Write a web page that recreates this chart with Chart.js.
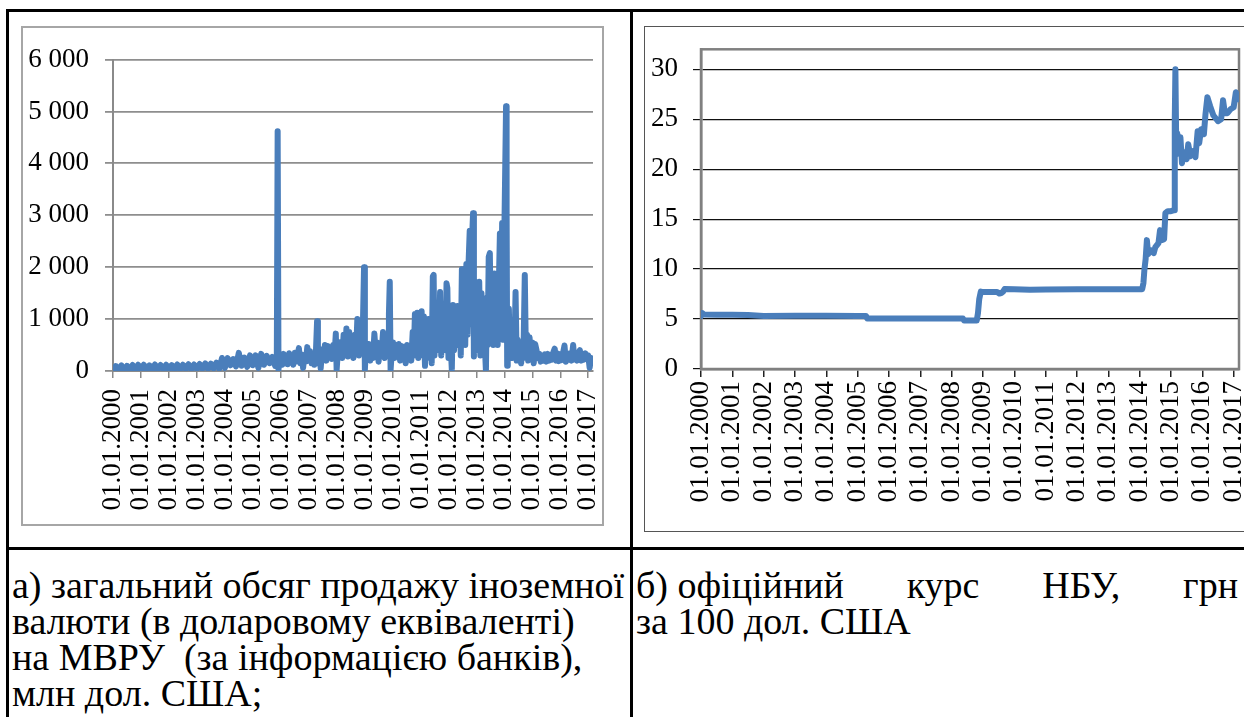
<!DOCTYPE html>
<html><head><meta charset="utf-8">
<script src="https://cdn.jsdelivr.net/npm/chart.js@4"></script>
<style>
html,body{margin:0;padding:0;background:#fff;}
body{width:1244px;height:717px;overflow:hidden;position:relative;font-family:'Liberation Serif','Times New Roman',serif;}
.rule{position:absolute;background:#000;}
.frame{position:absolute;box-sizing:border-box;}
canvas{position:absolute;}
.cap{position:absolute;font-family:'Liberation Serif','Times New Roman',serif;font-size:38px;line-height:36px;color:#000;white-space:nowrap;}
</style></head><body>
<div class="rule" style="left:6px;top:9px;width:1238px;height:3px"></div>
<div class="rule" style="left:6px;top:9px;width:3px;height:708px"></div>
<div class="rule" style="left:630px;top:9px;width:3px;height:708px"></div>
<div class="rule" style="left:6px;top:547px;width:1238px;height:3px"></div>
<div class="frame" style="left:21px;top:26px;width:583px;height:500px;border:2px solid #a6a6a6"></div>
<div class="frame" style="left:644px;top:26px;width:640px;height:506px;border:1.5px solid #555"></div>
<canvas id="c1" width="581" height="498" style="left:22px;top:27px"></canvas>
<canvas id="c2" width="599" height="504" style="left:645px;top:27px"></canvas>
<div class="cap" style="left:12px;top:567px;">а) загальний обсяг продажу іноземної<br>валюти (в доларовому еквіваленті)<br>на МВРУ&nbsp; (за інформацією банків),<br>млн дол. США;</div>
<div class="cap" style="left:636px;top:567px;width:602px;white-space:normal;">
<div style="text-align:justify;text-align-last:justify;"><span style="display:inline-block">б) офіційний</span> курс НБУ, грн</div>
<div>за 100 дол. США</div></div>
<script>
// ---- x axis ticks (both charts)
const tickYears = [2000,2001,2002,2003,2004,2005,2006,2007,2008,2009,2010,2011,2012,2013,2014,2015,2016,2017];
const tickLabels = ['01.01.2000','01.01.2001','01.01.2002','01.01.2003','01.01.2004','01.01.2005','01.01.2006','01.01.2007','01.01.2008','01.01.2009','01.01.2010','01.01.2011','01.01.2012','01.01.2013','01.01.2014','01.01.2015','01.01.2016','01.01.2017'];

// ---- chart a: total sales of foreign currency, mln USD
const salesTickValues = [0,1000,2000,3000,4000,5000,6000];
const salesTickLabels = ['0','1 000','2 000','3 000','4 000','5 000','6 000'];
const salesYears = [
 2000.0,2000.1,2000.2,2000.3,2000.4,2000.5,2000.6,2000.7,2000.8,2000.9,
 2001.0,2001.1,2001.2,2001.3,2001.4,2001.5,2001.6,2001.7,2001.8,2001.9,
 2002.0,2002.1,2002.2,2002.3,2002.4,2002.5,2002.6,2002.7,2002.8,2002.9,
 2003.0,2003.1,2003.2,2003.3,2003.4,2003.5,2003.6,2003.7,2003.8,2003.9,
 2004.0,2004.1,2004.2,2004.3,2004.4,2004.5,2004.6,2004.7,2004.8,2004.9,
 2005.0,2005.1,2005.2,2005.3,2005.4,2005.5,2005.6,2005.7,2005.8,
 2005.86,2005.89,2005.92,2005.96,
 2006.00,2006.05,2006.10,2006.15,2006.20,2006.25,2006.30,2006.35,2006.40,2006.45,
 2006.50,2006.55,2006.60,2006.65,2006.70,2006.75,2006.80,2006.85,2006.90,2006.95,
 2007.00,2007.05,2007.10,2007.15,2007.20,2007.25,2007.30,2007.33,2007.38,2007.43,
 2007.48,2007.53,2007.58,2007.63,2007.68,2007.73,2007.78,2007.83,2007.88,2007.93,
 2007.97,2008.00,2008.05,2008.10,2008.15,2008.20,2008.25,2008.30,2008.35,2008.40,
 2008.45,2008.50,2008.55,2008.60,2008.65,2008.70,2008.74,2008.80,2008.85,2008.90,
 2008.94,2008.98,2009.01,2009.05,2009.10,2009.15,2009.20,2009.25,2009.30,2009.35,
 2009.40,2009.45,2009.50,2009.55,2009.60,2009.66,2009.72,2009.78,2009.84,2009.87,
 2009.90,2009.93,2009.97,2010.02,2010.07,2010.12,2010.17,2010.22,2010.27,2010.32,
 2010.37,2010.42,2010.47,2010.52,2010.57,2010.62,2010.67,2010.72,
 2010.76,2010.80,2010.84,2010.88,2010.92,2010.96,2011.00,2011.04,2011.08,2011.12,
 2011.16,2011.20,2011.24,2011.28,2011.32,2011.36,2011.40,2011.44,2011.47,2011.50,
 2011.54,2011.58,2011.62,2011.66,2011.70,2011.74,2011.78,2011.82,2011.86,2011.90,
 2011.93,2011.96,2012.00,2012.04,2012.08,2012.12,2012.16,2012.20,2012.24,2012.28,
 2012.32,2012.36,2012.40,2012.44,2012.48,2012.52,2012.56,2012.60,2012.64,2012.68,
 2012.72,2012.76,2012.80,2012.84,2012.88,2012.91,2012.94,2012.98,2013.02,2013.06,
 2013.10,2013.14,2013.18,2013.22,2013.26,2013.30,2013.34,2013.37,2013.40,2013.44,
 2013.48,2013.52,2013.56,2013.60,2013.64,2013.68,2013.72,2013.76,2013.80,2013.84,
 2013.88,2013.92,2013.96,2014.00,2014.06,2014.08,2014.10,2014.12,2014.16,2014.20,
 2014.24,2014.28,2014.32,2014.36,2014.40,2014.44,2014.48,2014.52,2014.56,2014.60,
 2014.64,2014.68,2014.73,2014.77,2014.81,2014.85,2014.90,2014.95,2015.00,2015.05,
 2015.10,2015.15,
 2015.20,2015.25,2015.30,2015.35,2015.40,2015.45,2015.50,2015.55,2015.60,2015.65,
 2015.70,2015.75,2015.80,2015.85,2015.90,2015.95,2016.00,2016.05,2016.10,2016.15,
 2016.20,2016.25,2016.30,2016.35,2016.40,2016.46,2016.50,2016.55,2016.60,2016.65,
 2016.70,2016.75,2016.80,2016.85,2016.90,2016.95,2017.00,2017.05,2017.10,2017.15,
 2017.17
];
const salesValues = [
 15,95,25,110,20,100,30,115,25,120,
 30,120,25,110,35,125,30,115,35,120,
 25,115,35,125,30,120,40,130,35,125,
 40,135,45,145,40,140,50,160,45,250,
 60,250,110,230,90,350,100,260,80,300,
 110,300,60,330,120,290,150,270,100,
 300,4620,30,200,
 250,120,330,150,300,130,340,160,290,120,
 350,180,300,440,150,320,60,310,180,460,
 200,380,150,330,120,250,960,150,380,50,
 420,250,500,200,480,280,450,230,500,350,
 720,20,430,300,560,250,700,350,820,280,
 750,300,600,250,700,400,1000,300,650,350,
 900,2000,30,450,250,520,200,480,250,720,
 300,550,180,500,300,750,250,560,400,1100,
 1720,20,350,550,250,500,300,520,200,480,
 250,460,150,500,300,450,200,750,
 300,1100,400,1120,250,1100,500,1150,300,1050,
 100,900,400,1000,250,800,150,1820,1850,300,
 1100,600,1250,400,1520,300,1300,500,1200,400,
 1690,1600,250,1100,500,20,1270,400,1200,500,
 1250,600,1100,300,1960,800,1900,500,2060,700,
 2100,2700,900,2500,3040,280,1300,400,1500,500,
 1720,300,1500,600,1400,500,0,1300,500,2200,
 2270,600,1600,500,1880,700,1850,500,1600,2650,
 800,2850,600,2700,5100,3120,100,400,1200,300,
 700,250,900,400,1520,200,600,300,500,150,
 500,250,1850,300,700,200,650,250,550,150,
 520,400,
 250,330,180,300,200,320,180,330,200,300,
 220,360,430,200,340,190,320,210,350,490,
 180,330,220,340,200,500,220,330,200,350,
 400,200,330,220,340,250,300,60,250,180,
 220
];

// ---- chart b: official NBU rate, UAH per 100 USD
const rateTickValues = [0,5,10,15,20,25,30];
const rateTickLabels = ['0','5','10','15','20','25','30'];
const rateYears = [
 2000.00,2000.04,2000.10,2000.50,2001.00,2001.50,2002.00,2003.00,2004.00,2005.00,
 2005.27,2005.31,2006.00,2007.00,2008.00,2008.36,2008.40,2008.80,2008.84,2008.88,
 2008.93,2008.97,2009.45,2009.52,2009.58,2009.64,2009.69,2010.00,2010.50,2011.00,
 2012.00,2013.00,2014.08,2014.12,2014.15,2014.19,2014.23,2014.27,2014.35,2014.45,
 2014.50,2014.60,2014.65,2014.70,2014.78,2014.82,2014.90,2015.00,2015.10,2015.12,
 2015.14,2015.17,2015.20,2015.25,2015.30,2015.35,2015.42,2015.50,2015.55,2015.62,
 2015.70,2015.78,2015.85,2015.90,2015.96,2016.05,2016.10,2016.16,2016.25,2016.35,
 2016.50,2016.60,2016.66,2016.72,2016.80,2016.90,2017.00,2017.07,2017.12,2017.17
];
const rateValues = [
 5.3,5.6,5.45,5.43,5.42,5.4,5.3,5.33,5.32,5.31,
 5.3,5.05,5.05,5.05,5.05,5.05,4.85,4.85,5.6,7.0,
 7.75,7.7,7.7,7.55,7.6,7.75,8.0,7.98,7.93,7.95,
 7.99,7.99,7.99,8.6,9.9,11.0,12.9,11.5,11.9,11.6,
 12.2,12.6,13.9,12.9,13.0,15.6,15.8,15.8,15.9,25.0,
 30.0,21.5,23.6,22.0,23.2,20.6,21.7,21.0,22.5,21.3,
 21.8,21.2,23.8,22.6,24.0,23.5,25.5,27.2,26.3,25.4,
 24.8,25.0,26.9,25.6,25.6,26.0,26.2,27.7,27.0,27.0
];

const LINE = '#4a7ebb';
const FONT = {family: "'Liberation Serif', 'Times New Roman', serif", size: 27};

const plotBox = {
  id: 'plotBox',
  beforeDatasetsDraw(chart, args, o) {
    if (!o || !o.color) return;
    const a = chart.chartArea, c = chart.ctx;
    c.save(); c.strokeStyle = o.color; c.lineWidth = o.width;
    c.strokeRect(a.left, a.top, a.right - a.left, a.bottom - a.top);
    c.restore();
  }
};

function build(id, xs, ys, cfg) {
  new Chart(document.getElementById(id), {
    type: 'line',
    data: { datasets: [{
      data: xs.map((x, i) => ({x: x, y: ys[i]})),
      borderColor: LINE, borderWidth: cfg.lw, pointRadius: 0, tension: 0,
      borderJoinStyle: 'round', borderCapStyle: 'round', fill: false
    }]},
    options: {
      responsive: false, animation: false, devicePixelRatio: 1,
      layout: { padding: { top: cfg.padTop, right: cfg.padRight, left: 0, bottom: 0 } },
      plugins: { legend: {display: false}, tooltip: {enabled: false}, plotBox: cfg.box },
      scales: {
        x: {
          type: 'linear', min: 2000, max: 2017.17,
          afterBuildTicks: s => { s.ticks = tickYears.map(v => ({value: v})); },
          afterFit: s => { s.height = cfg.xH; s.paddingLeft = 0; s.paddingRight = 0; },
          grid: { display: true, drawOnChartArea: false, drawTicks: true, tickLength: cfg.xTick, color: cfg.xTickColor, lineWidth: 1.5 },
          border: { display: true, color: cfg.axisColor, width: cfg.axisW },
          ticks: { autoSkip: false, minRotation: 90, maxRotation: 90, padding: cfg.xPad, color: '#000', font: FONT,
                   callback: (v, i) => tickLabels[i] }
        },
        y: {
          type: 'linear', min: 0, max: cfg.yMax,
          afterBuildTicks: s => { s.ticks = cfg.yTicks.map(v => ({value: v})); },
          afterFit: s => { s.width = cfg.yW; s.paddingTop = 0; s.paddingBottom = 0; },
          grid: { display: true, drawOnChartArea: true, drawTicks: true, tickLength: 8, color: cfg.gridColor, lineWidth: cfg.gridW },
          border: { display: true, color: cfg.axisColor, width: cfg.axisW },
          ticks: { padding: cfg.yPad, color: '#000', font: FONT, callback: (v, i) => cfg.yLabels[i] }
        }
      }
    },
    plugins: [plotBox]
  });
}

build('c1', salesYears, salesValues, {
  lw: 6, padTop: 32.5, padRight: 10, xH: 154, yW: 91, yMax: 6000,
  yTicks: salesTickValues, yLabels: salesTickLabels,
  xTick: 7, xPad: 11, xTickColor: '#8a8a8a', axisColor: '#8a8a8a', axisW: 2,
  gridColor: '#8e8e8e', gridW: 1.8, yPad: 16, box: {}
});
build('c2', rateYears, rateValues, {
  lw: 6, padTop: 22.3, padRight: 5, xH: 162, yW: 56, yMax: 32,
  yTicks: rateTickValues, yLabels: rateTickLabels,
  xTick: 8, xPad: 4, xTickColor: '#222', axisColor: '#808080', axisW: 2.5,
  gridColor: '#111', gridW: 1.2, yPad: 15, box: {color: '#808080', width: 2.5}
});
</script>
</body></html>
